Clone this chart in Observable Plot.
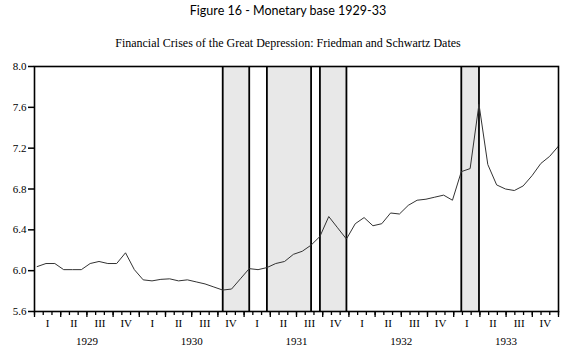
<!DOCTYPE html>
<html>
<head>
<meta charset="utf-8">
<script src="https://cdn.jsdelivr.net/npm/d3@7"></script>
<script src="https://cdn.jsdelivr.net/npm/@observablehq/plot@0.6"></script>
<style>
  html, body { margin: 0; padding: 0; background: #fff; }
  #wrap { position: relative; width: 576px; height: 361px; }
  #title { position: absolute; left: 0; top: 3px; width: 576px; text-align: center;
           font-family: Lato, "Liberation Sans", sans-serif; font-size: 12.5px; color: #000; }
  #subtitle { position: absolute; left: 0; top: 36px; width: 576px; text-align: center;
           font-family: "Liberation Serif", serif; font-size: 12px; color: #000; }
  #chart { position: absolute; left: 0; top: 0; }
</style>
</head>
<body>
<div id="wrap">
  <div id="chart"></div>
  <div id="title">Figure 16 - Monetary base 1929-33</div>
  <div id="subtitle">Financial Crises of the Great Depression: Friedman and Schwartz Dates</div>
</div>
<script>
// Monthly monetary base, Jan 1929 .. Dec 1933 (index 0..59)
const monthIndex = d3.range(60);
const monetaryBase = [
  6.04, 6.07, 6.07, 6.01, 6.01, 6.01, 6.07, 6.09, 6.07, 6.07,
  6.175, 6.01, 5.91, 5.90, 5.915, 5.92, 5.90, 5.91, 5.89, 5.87,
  5.84, 5.81, 5.82, 5.92, 6.02, 6.01, 6.03, 6.07, 6.09, 6.16,
  6.19, 6.25, 6.335, 6.53, 6.42, 6.31, 6.46, 6.52, 6.44, 6.46,
  6.565, 6.555, 6.64, 6.69, 6.70, 6.72, 6.74, 6.69, 6.97, 7.00,
  7.63, 7.04, 6.84, 6.80, 6.785, 6.83, 6.93, 7.05, 7.12, 7.22
];
// Crisis periods (month index start, end)
const crisisStart = [21, 26, 32, 48];
const crisisEnd   = [24, 31, 35, 50];
const years = [1929, 1930, 1931, 1932, 1933];
const quarterLabels = ["I", "II", "III", "IV"];
const yTicks = [5.6, 6.0, 6.4, 6.8, 7.2, 7.6, 8.0];

const series = monthIndex.map((i) => ({i, v: monetaryBase[i]}));
const crises = crisisStart.map((s, k) => ({s, e: crisisEnd[k]}));
const crisisEdges = crisisStart.concat(crisisEnd);

// period boundaries on the observation axis (observations sit near the start of each month)
const x0 = -0.3, x1 = 59;
const per = (x1 - x0) / 60;
const boundary = (k) => x0 + k * per;
const monthTicks = d3.range(61).map(boundary);
const quarterTicks = d3.range(0, 61, 3).map(boundary);
const quarters = d3.range(20).map((q) => ({pos: boundary(q * 3 + 1.5), label: quarterLabels[q % 4]}));
const yearLabels = years.map((y, k) => ({pos: boundary(k * 12 + 6), label: String(y)}));

const serif = "'Liberation Serif', serif";

const chart = Plot.plot({
  width: 576,
  height: 361,
  marginTop: 66,
  marginBottom: 50,
  marginLeft: 34,
  marginRight: 18,
  style: {fontFamily: serif, fontSize: "11px", color: "#000", background: "transparent"},
  x: {type: "linear", domain: [x0, x1]},
  y: {domain: [5.6, 8.0]},
  marks: [
    Plot.rect(crises, {x1: "s", x2: "e", fill: "#e8e8e8"}),
    Plot.ruleX(crisisEdges, {stroke: "#000", strokeWidth: 1.8}),
    Plot.line(series, {x: "i", y: "v", stroke: "#333", strokeWidth: 1}),
    Plot.frame({stroke: "#000", strokeWidth: 1.6}),
    Plot.axisY({ticks: yTicks, tickFormat: ".1f", tickSize: 6, tickPadding: 2, label: null, fontSize: 11, strokeWidth: 1.5}),
    Plot.axisX({ticks: monthTicks, tickFormat: () => "", tickSize: 4, label: null, strokeWidth: 1.3}),
    Plot.axisX({ticks: quarterTicks, tickFormat: () => "", tickSize: 6, label: null, strokeWidth: 1.3}),
    Plot.text(quarters, {x: "pos", text: "label", frameAnchor: "bottom", dy: 15, fontSize: 11}),
    Plot.text(yearLabels, {x: "pos", text: "label", frameAnchor: "bottom", dy: 33, fontSize: 11})
  ]
});
document.getElementById("chart").appendChild(chart);
</script>
</body>
</html>
